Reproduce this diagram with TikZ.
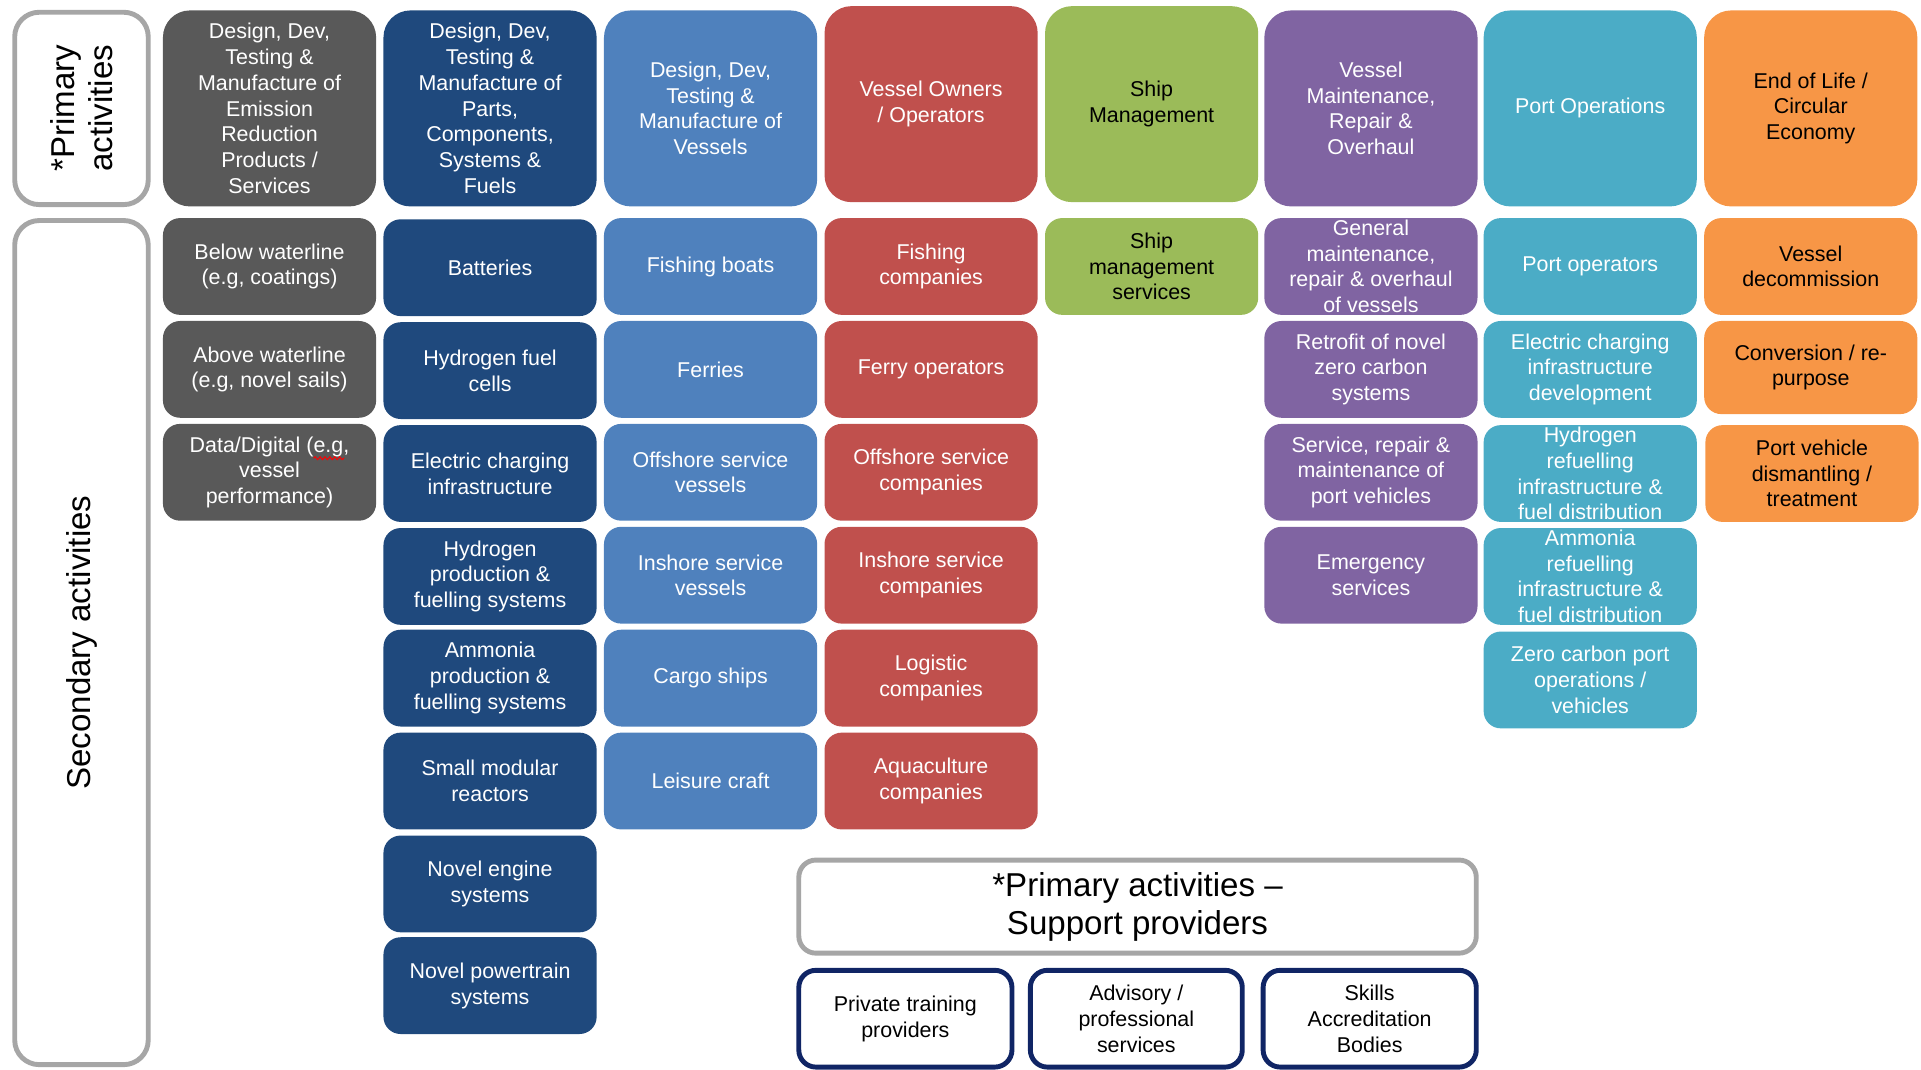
\documentclass[tikz,border=0pt]{standalone}
\usepackage{fontspec}
\setmainfont{Liberation Sans}
\usetikzlibrary{decorations.pathmorphing}

\definecolor{cgray}{HTML}{595959}
\definecolor{cdblue}{HTML}{1F497D}
\definecolor{cmblue}{HTML}{4F81BD}
\definecolor{cred}{HTML}{C0504D}
\definecolor{cgreen}{HTML}{9BBB59}
\definecolor{cpurple}{HTML}{8064A2}
\definecolor{ccyan}{HTML}{4BACC6}
\definecolor{corange}{HTML}{F79646}
\definecolor{framegray}{HTML}{A6A6A6}
\definecolor{navy}{HTML}{102565}

\newcommand{\boxfont}{\fontsize{17.5}{21}\selectfont}
\newcommand{\labelfont}{\fontsize{27}{31}\selectfont}

\tikzset{
  tile/.style={inner sep=0pt, align=center, font=\boxfont, text=white},
  prim/.style={tile, rounded corners=22pt, minimum width=174pt, minimum height=160pt},
  sec/.style={tile, rounded corners=14pt, minimum width=174pt, minimum height=79pt},
  dark/.style={text=black},
  labelframe/.style={draw=framegray, line width=4pt, fill=white, rounded corners=20pt,
    inner sep=0pt, align=center, text=black, font=\labelfont},
  supportbox/.style={draw=navy, line width=4pt, fill=white, rounded corners=14pt,
    inner sep=0pt, align=center, text=black, font=\boxfont,
    minimum width=174pt, minimum height=79pt},
}

\begin{document}
\begin{tikzpicture}[x=1pt, y=-1pt]
\useasboundingbox (0,0) rectangle (1568,873);

% side labels
\node[labelframe, rotate=90, minimum width=157pt, minimum height=109pt] (plab) at (66.5,88.5) {*Primary\\activities};
\node[labelframe, rotate=90, minimum width=689pt, minimum height=109pt] (slab) at (66.5,524.5) {Secondary activities};

% primary activities
\node[prim, fill=cgray]   (p1) at (220,88.5) {Design, Dev,\\Testing \&\\Manufacture of\\Emission\\Reduction\\Products /\\Services};
\node[prim, fill=cdblue]  (p2) at (400,88.5) {Design, Dev,\\Testing \&\\Manufacture of\\Parts,\\Components,\\Systems \&\\Fuels};
\node[prim, fill=cmblue]  (p3) at (580,88.5) {Design, Dev,\\Testing \&\\Manufacture of\\Vessels};
\node[prim, fill=cred]    (p4) at (760,85) {Vessel Owners\\/ Operators};
\node[prim, fill=cgreen, dark] (p5) at (940,85) {Ship\\Management};
\node[prim, fill=cpurple] (p6) at (1119,88.5) {Vessel\\Maintenance,\\Repair \&\\Overhaul};
\node[prim, fill=ccyan]   (p7) at (1298,88.5) {Port Operations};
\node[prim, fill=corange, dark] (p8) at (1478,88.5) {End of Life /\\Circular\\Economy};

% column 1: emission reduction products
\node[sec, fill=cgray] (a1) at (220,217.5) {Below waterline\\(e.g, coatings)};
\node[sec, fill=cgray] (a2) at (220,301.5) {Above waterline\\(e.g, novel sails)};
\node[sec, fill=cgray] (a3) at (220,385.5) {Data/Digital (e.g,\\vessel\\performance)};
\draw[red, line width=0.8pt, decorate, decoration={snake, amplitude=1.2pt, segment length=4pt}]
  (256,374) -- (281,374);

% column 2: parts, components, systems and fuels
\node[sec, fill=cdblue] (b1) at (400,218.5) {Batteries};
\node[sec, fill=cdblue] (b2) at (400,302.5) {Hydrogen fuel\\cells};
\node[sec, fill=cdblue] (b3) at (400,386.5) {Electric charging\\infrastructure};
\node[sec, fill=cdblue] (b4) at (400,470.5) {Hydrogen\\production \&\\fuelling systems};
\node[sec, fill=cdblue] (b5) at (400,553.5) {Ammonia\\production \&\\fuelling systems};
\node[sec, fill=cdblue] (b6) at (400,637.5) {Small modular\\reactors};
\node[sec, fill=cdblue] (b7) at (400,721.5) {Novel engine\\systems};
\node[sec, fill=cdblue] (b8) at (400,804.5) {Novel powertrain\\systems};

% column 3: vessels
\node[sec, fill=cmblue] (c1) at (580,217.5) {Fishing boats};
\node[sec, fill=cmblue] (c2) at (580,301.5) {Ferries};
\node[sec, fill=cmblue] (c3) at (580,385.5) {Offshore service\\vessels};
\node[sec, fill=cmblue] (c4) at (580,469.5) {Inshore service\\vessels};
\node[sec, fill=cmblue] (c5) at (580,553.5) {Cargo ships};
\node[sec, fill=cmblue] (c6) at (580,637.5) {Leisure craft};

% column 4: owners and operators
\node[sec, fill=cred] (d1) at (760,217.5) {Fishing\\companies};
\node[sec, fill=cred] (d2) at (760,301.5) {Ferry operators};
\node[sec, fill=cred] (d3) at (760,385.5) {Offshore service\\companies};
\node[sec, fill=cred] (d4) at (760,469.5) {Inshore service\\companies};
\node[sec, fill=cred] (d5) at (760,553.5) {Logistic\\companies};
\node[sec, fill=cred] (d6) at (760,637.5) {Aquaculture\\companies};

% column 5: ship management
\node[sec, fill=cgreen, dark] (e1) at (940,217.5) {Ship\\management\\services};

% column 6: maintenance, repair and overhaul
\node[sec, fill=cpurple] (f1) at (1119,217.5) {General\\maintenance,\\repair \& overhaul\\of vessels};
\node[sec, fill=cpurple] (f2) at (1119,301.5) {Retrofit of novel\\zero carbon\\systems};
\node[sec, fill=cpurple] (f3) at (1119,385.5) {Service, repair \&\\maintenance of\\port vehicles};
\node[sec, fill=cpurple] (f4) at (1119,469.5) {Emergency\\services};

% column 7: port operations
\node[sec, fill=ccyan] (g1) at (1298,217.5) {Port operators};
\node[sec, fill=ccyan] (g2) at (1298,301.5) {Electric charging\\infrastructure\\development};
\node[sec, fill=ccyan] (g3) at (1298,386.5) {Hydrogen\\refuelling\\infrastructure \&\\fuel distribution};
\node[sec, fill=ccyan] (g4) at (1298,470.5) {Ammonia\\refuelling\\infrastructure \&\\fuel distribution};
\node[sec, fill=ccyan] (g5) at (1298,555) {Zero carbon port\\operations /\\vehicles};

% column 8: end of life
\node[sec, fill=corange, dark] (h1) at (1478,217.5) {Vessel\\decommission};
\node[sec, fill=corange, dark, minimum height=76pt] (h2) at (1478,300) {Conversion / re-\\purpose};
\node[sec, fill=corange, dark] (h3) at (1479,386.5) {Port vehicle\\dismantling /\\treatment};

% support providers
\node[labelframe, rounded corners=14pt, minimum width=553pt, minimum height=76pt] (sup) at (928.5,740) {*Primary activities \textendash\\Support providers};
\node[supportbox] (s1) at (739,831.5) {Private training\\providers};
\node[supportbox, minimum width=173pt] (s2) at (927.5,831.5) {Advisory /\\professional\\services};
\node[supportbox] (s3) at (1118,831.5) {Skills\\Accreditation\\Bodies};
\end{tikzpicture}
\end{document}
